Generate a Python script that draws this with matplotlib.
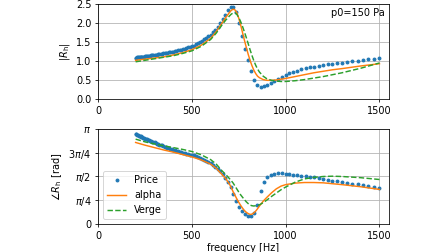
import numpy as np
import matplotlib
matplotlib.use('Agg')
import matplotlib.pyplot as plt

# Measured reflection coefficient (Price), log-spaced frequencies
freq_price = [200, 204, 208, 213, 217, 222, 226, 231, 235, 240,
              245, 250, 255, 261, 266, 272, 277, 283, 289, 295,
              301, 307, 313, 319, 326, 333, 340, 347, 354, 361,
              368, 376, 384, 392, 400, 408, 416, 425, 434, 442,
              452, 461, 470, 480, 490, 500, 510, 521, 531, 542,
              553, 565, 576, 588, 600, 613, 625, 638, 651, 665,
              678, 692, 706, 721, 736, 751, 766, 782, 798, 815,
              831, 848, 866, 884, 902, 920, 939, 959, 978, 999,
              1019, 1040, 1061, 1083, 1106, 1128, 1151, 1175, 1199, 1224,
              1249, 1275, 1301, 1328, 1355, 1383, 1411, 1440, 1470, 1500]
mag_price = [1.09, 1.09, 1.10, 1.10, 1.10, 1.11, 1.11, 1.11, 1.12, 1.12,
             1.12, 1.13, 1.13, 1.13, 1.14, 1.14, 1.14, 1.15, 1.15, 1.16,
             1.16, 1.17, 1.17, 1.18, 1.18, 1.19, 1.19, 1.20, 1.21, 1.21,
             1.22, 1.23, 1.24, 1.24, 1.25, 1.26, 1.27, 1.28, 1.29, 1.30,
             1.31, 1.33, 1.34, 1.36, 1.37, 1.39, 1.41, 1.44, 1.47, 1.50,
             1.53, 1.57, 1.61, 1.65, 1.70, 1.76, 1.83, 1.91, 2.00, 2.10,
             2.22, 2.34, 2.43, 2.44, 2.30, 2.00, 1.65, 1.33, 1.04, 0.74,
             0.50, 0.36, 0.31, 0.33, 0.38, 0.43, 0.48, 0.53, 0.58, 0.63,
             0.68, 0.72, 0.75, 0.78, 0.81, 0.83, 0.85, 0.87, 0.89, 0.91,
             0.93, 0.95, 0.96, 0.98, 0.99, 1.01, 1.03, 1.05, 1.06, 1.08]
phase_price = [2.99, 2.97, 2.96, 2.94, 2.93, 2.91, 2.90, 2.88, 2.87, 2.86,
               2.84, 2.83, 2.81, 2.80, 2.78, 2.77, 2.75, 2.74, 2.72, 2.71,
               2.70, 2.68, 2.66, 2.65, 2.63, 2.61, 2.60, 2.58, 2.56, 2.54,
               2.53, 2.51, 2.49, 2.47, 2.45, 2.44, 2.42, 2.41, 2.39, 2.38,
               2.36, 2.35, 2.33, 2.32, 2.30, 2.29, 2.27, 2.24, 2.22, 2.19,
               2.16, 2.13, 2.10, 2.06, 2.02, 1.96, 1.90, 1.83, 1.75, 1.65,
               1.53, 1.39, 1.21, 0.98, 0.76, 0.56, 0.41, 0.32, 0.27, 0.26,
               0.37, 0.62, 1.10, 1.40, 1.55, 1.62, 1.65, 1.67, 1.67, 1.66,
               1.65, 1.63, 1.62, 1.60, 1.58, 1.56, 1.54, 1.51, 1.49, 1.46,
               1.43, 1.41, 1.38, 1.36, 1.33, 1.31, 1.28, 1.26, 1.23, 1.20]

# Model curves
freq_model = [200, 250, 300, 350, 400, 450, 500, 550, 600, 630, 660, 680,
              700, 710, 720, 730, 740, 750, 760, 770, 780, 790, 800, 810,
              820, 830, 840, 850, 860, 880, 900, 925, 950, 975, 1000, 1050,
              1100, 1150, 1200, 1250, 1300, 1400, 1500]
mag_alpha = [1.02, 1.05, 1.08, 1.11, 1.16, 1.22, 1.30, 1.42, 1.60, 1.78, 2.00, 2.15,
             2.28, 2.34, 2.37, 2.35, 2.27, 2.13, 1.95, 1.75, 1.55, 1.36, 1.18, 1.02,
             0.88, 0.76, 0.67, 0.60, 0.56, 0.51, 0.49, 0.49, 0.50, 0.52, 0.54, 0.59,
             0.64, 0.69, 0.73, 0.77, 0.80, 0.87, 0.93]
mag_verge = [0.98, 1.02, 1.06, 1.10, 1.14, 1.20, 1.27, 1.39, 1.57, 1.74, 1.95, 2.08,
             2.19, 2.24, 2.27, 2.27, 2.23, 2.15, 2.04, 1.91, 1.77, 1.62, 1.46, 1.30,
             1.15, 1.01, 0.89, 0.79, 0.71, 0.60, 0.53, 0.49, 0.47, 0.46, 0.46, 0.48,
             0.51, 0.55, 0.59, 0.64, 0.69, 0.81, 0.95]
phase_alpha = [2.70, 2.61, 2.53, 2.45, 2.38, 2.30, 2.22, 2.12, 1.98, 1.84, 1.64, 1.50,
               1.32, 1.20, 1.06, 0.94, 0.82, 0.71, 0.61, 0.52, 0.44, 0.38, 0.34, 0.31,
               0.32, 0.36, 0.42, 0.50, 0.59, 0.75, 0.88, 1.03, 1.16, 1.25, 1.30, 1.35,
               1.37, 1.37, 1.36, 1.33, 1.30, 1.23, 1.14]
phase_verge = [2.81, 2.72, 2.65, 2.59, 2.53, 2.47, 2.40, 2.29, 2.13, 1.98, 1.76, 1.64,
               1.50, 1.43, 1.35, 1.25, 1.15, 1.05, 0.96, 0.88, 0.80, 0.73, 0.67, 0.62,
               0.60, 0.59, 0.60, 0.61, 0.63, 0.70, 0.79, 0.91, 1.02, 1.13, 1.22, 1.38,
               1.49, 1.54, 1.57, 1.58, 1.57, 1.53, 1.47]

freq_ticks = [0, 500, 1000, 1500]
mag_ticks = [0.0, 0.5, 1.0, 1.5, 2.0, 2.5]
phase_ticks = [0, np.pi / 4, np.pi / 2, 3 * np.pi / 4, np.pi]
phase_labels = ['0', r'$\pi/4$', r'$\pi/2$', r'$3\pi/4$', r'$\pi$']

fig, (ax1, ax2) = plt.subplots(2, 1, figsize=(6.4, 3.6), dpi=70)
fig.subplots_adjust(left=0.219, right=0.868, bottom=0.112, top=0.983, hspace=0.32)

# Magnitude
ax1.plot(freq_price, mag_price, '.', color='#1f77b4', label='Price')
ax1.plot(freq_model, mag_alpha, '-', color='#ff7f0e', label='alpha')
ax1.plot(freq_model, mag_verge, '--', color='#2ca02c', label='Verge')
ax1.set_xlim(0, 1550)
ax1.set_ylim(0, 2.5)
ax1.set_xticks(freq_ticks)
ax1.set_yticks(mag_ticks)
ax1.set_yticklabels(['%.1f' % t for t in mag_ticks])
ax1.set_ylabel(r'$|R_\mathrm{h}|$')
ax1.grid(True)
ax1.text(0.985, 0.96, 'p0=150 Pa', transform=ax1.transAxes, ha='right', va='top')

# Phase
ax2.plot(freq_price, phase_price, '.', color='#1f77b4', label='Price')
ax2.plot(freq_model, phase_alpha, '-', color='#ff7f0e', label='alpha')
ax2.plot(freq_model, phase_verge, '--', color='#2ca02c', label='Verge')
ax2.set_xlim(0, 1550)
ax2.set_ylim(0, np.pi)
ax2.set_xticks(freq_ticks)
ax2.set_yticks(phase_ticks)
ax2.set_yticklabels(phase_labels)
ax2.set_ylabel(r'$\angle R_\mathrm{h}$ [rad]')
ax2.set_xlabel('frequency [Hz]', labelpad=2)
ax2.grid(True)
ax2.legend(loc='lower left')

fig.savefig('out.png', dpi=70)
